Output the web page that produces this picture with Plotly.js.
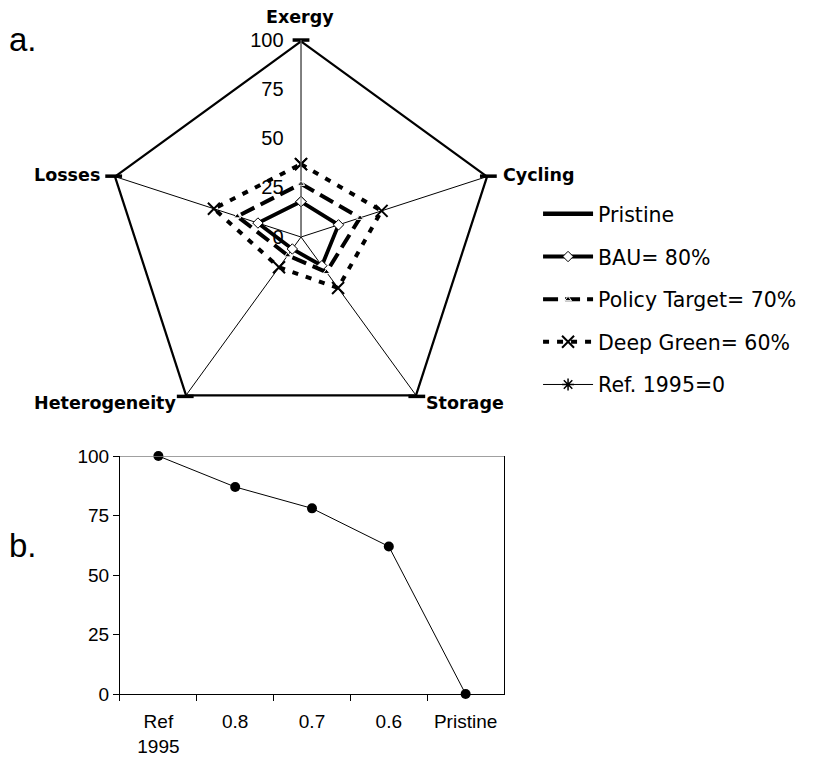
<!DOCTYPE html>
<html>
<head>
<meta charset="utf-8">
<script src="https://cdn.plot.ly/plotly-3.0.1.min.js"></script>
<style>
  html, body { margin: 0; padding: 0; background: #fff; }
  #chart { width: 814px; height: 758px; }
</style>
</head>
<body>
<div id="chart"></div>
<script>
// Radar (panel a): five ecosystem indicators, each scenario scored 0-100
const indicators = ['Exergy', 'Cycling', 'Storage', 'Heterogeneity', 'Losses'];
const pristine     = [100, 100, 100, 100, 100];
const bau80        = [18, 20, 18, 7.5, 23];
const policy70     = [27, 31.5, 22, 11.5, 34];
const deepGreen60  = [37, 43, 32, 19, 46.5];
const ref1995      = [0, 0, 0, 0, 0];

// Line chart (panel b): overall score per scenario
const scenarioLabels = ['Ref<br>1995', '0.8', '0.7', '0.6', 'Pristine'];
const scenarioScores = [100, 87, 78, 62, 0];

const FONT = 'Liberation Sans, Arial, Helvetica, sans-serif';
const WIDE = 'DejaVu Sans, Verdana, sans-serif';

// close each radar polygon by repeating the first point
const closeLoop = a => a.concat([a[0]]);
const thetaLoop = closeLoop(indicators);

function radar(name, r, line, marker, group) {
  const t = {
    type: 'scatterpolar',
    name: name,
    r: closeLoop(r),
    theta: thetaLoop,
    mode: marker ? 'lines+markers' : 'lines',
    line: line,
    legendgroup: group,
    cliponaxis: false,
    hoverinfo: 'name+r+theta'
  };
  if (marker) t.marker = marker;
  return t;
}

const traces = [
  radar('Pristine', pristine, { color: '#000', width: 4.5 }, null, 'g1'),
  // short bar markers on the outer vertices
  {
    type: 'scatterpolar', r: pristine, theta: indicators, mode: 'markers',
    marker: { symbol: 'line-ew-open', size: 12, color: '#000', line: { color: '#000', width: 3.5 } },
    showlegend: false, hoverinfo: 'skip', cliponaxis: false
  },
  radar('BAU= 80%', bau80, { color: '#000', width: 3.8 },
        { symbol: 'diamond', size: 8, color: '#fff', line: { color: '#000', width: 1 } }, 'g2'),
  radar('Policy Target= 70%', policy70, { color: '#000', width: 4, dash: '15px,7px' },
        { symbol: 'triangle-up', size: 6, color: '#000', line: { color: '#fff', width: 1 } }, 'g3'),
  radar('Deep Green= 60%', deepGreen60, { color: '#000', width: 4, dash: '6px,8px' },
        { symbol: 'x-thin-open', size: 12, color: '#000', line: { color: '#000', width: 2 } }, 'g4'),
  radar('Ref. 1995=0', ref1995, { color: '#000', width: 1 },
        { symbol: 'asterisk-open', size: 10, color: '#000', line: { color: '#000', width: 1.5 } }, 'g5'),
  {
    type: 'scatter',
    x: scenarioLabels,
    y: scenarioScores,
    mode: 'lines+markers',
    line: { color: '#000', width: 1 },
    marker: { symbol: 'circle', size: 10, color: '#000' },
    xaxis: 'x', yaxis: 'y',
    showlegend: false,
    cliponaxis: false
  }
];

// indicator names placed around the outer vertices
const labelSpots = [
  { x: 300, y: 17,  xanchor: 'center' },
  { x: 501, y: 175, xanchor: 'left' },
  { x: 424, y: 403, xanchor: 'left' },
  { x: 178, y: 403, xanchor: 'right' },
  { x: 102, y: 175, xanchor: 'right' }
];
const indicatorLabels = indicators.map((name, i) => ({
  text: '<b>' + name + '</b>',
  xref: 'paper', yref: 'paper',
  x: labelSpots[i].x / 814, y: 1 - labelSpots[i].y / 758,
  xanchor: labelSpots[i].xanchor, yanchor: 'middle',
  showarrow: false,
  font: { family: WIDE, size: 17.5, color: '#000' }
}));

const layout = {
  width: 814,
  height: 758,
  margin: { l: 0, r: 0, t: 0, b: 0 },
  paper_bgcolor: '#fff',
  plot_bgcolor: '#fff',
  font: { family: FONT, color: '#000', size: 20 },
  showlegend: true,
  legend: {
    x: 0.661, y: 0.744, xanchor: 'left', yanchor: 'top',
    font: { family: WIDE, size: 20.5, color: '#000' },
    tracegroupgap: 13,
    itemwidth: 50,
    bgcolor: 'rgba(0,0,0,0)'
  },
  polar: {
    domain: { x: [0.1278, 0.6118], y: [0.4274, 0.9472] },
    gridshape: 'linear',
    bgcolor: '#fff',
    radialaxis: {
      range: [0, 100],
      tickvals: [0, 25, 50, 75, 100],
      angle: 90,
      side: 'counterclockwise',
      showgrid: false,
      showline: true,
      linecolor: '#808080',
      linewidth: 1,
      // invisible ticks keep the labels clear of the axis line
      ticks: 'outside',
      ticklen: 10,
      tickcolor: 'rgba(0,0,0,0)',
      tickfont: { family: FONT, size: 20, color: '#000' },
      tickangle: 90
    },
    angularaxis: {
      direction: 'clockwise',
      rotation: 90,
      showline: false,
      showgrid: true,
      gridcolor: '#000',
      gridwidth: 1,
      ticks: '',
      showticklabels: false
    }
  },
  xaxis: {
    domain: [0.1474, 0.6192],
    anchor: 'y',
    type: 'category',
    range: [-0.5, 4.5],
    showline: true,
    linecolor: '#000',
    linewidth: 1,
    ticks: 'outside',
    tickson: 'boundaries',
    ticklen: 6,
    tickcolor: '#000',
    ticklabelstandoff: 10,
    showgrid: false,
    zeroline: false,
    tickfont: { family: FONT, size: 19, color: '#000' },
    mirror: false
  },
  yaxis: {
    domain: [0.0844, 0.3984],
    anchor: 'x',
    range: [0, 100],
    tickvals: [0, 25, 50, 75, 100],
    showline: true,
    mirror: true,
    linecolor: '#000',
    linewidth: 1,
    ticks: 'outside',
    ticklen: 6,
    tickcolor: '#000',
    showgrid: false,
    zeroline: false,
    tickfont: { family: FONT, size: 19, color: '#000' }
  },
  shapes: [
    // grey gridline across the top of panel b
    { type: 'line', xref: 'x domain', yref: 'y', x0: 0, x1: 1, y0: 100, y1: 100,
      line: { color: '#808080', width: 1.5 } }
  ],
  annotations: indicatorLabels.concat([
    { text: 'a.', xref: 'paper', yref: 'paper', x: 0.008, y: 1 - 40 / 758,
      xanchor: 'left', yanchor: 'middle', showarrow: false, font: { family: FONT, size: 33 } },
    { text: 'b.', xref: 'paper', yref: 'paper', x: 0.008, y: 1 - 545 / 758,
      xanchor: 'left', yanchor: 'middle', showarrow: false, font: { family: FONT, size: 33 } }
  ])
};

Plotly.newPlot('chart', traces, layout, { displayModeBar: false, responsive: false });
</script>
</body>
</html>
